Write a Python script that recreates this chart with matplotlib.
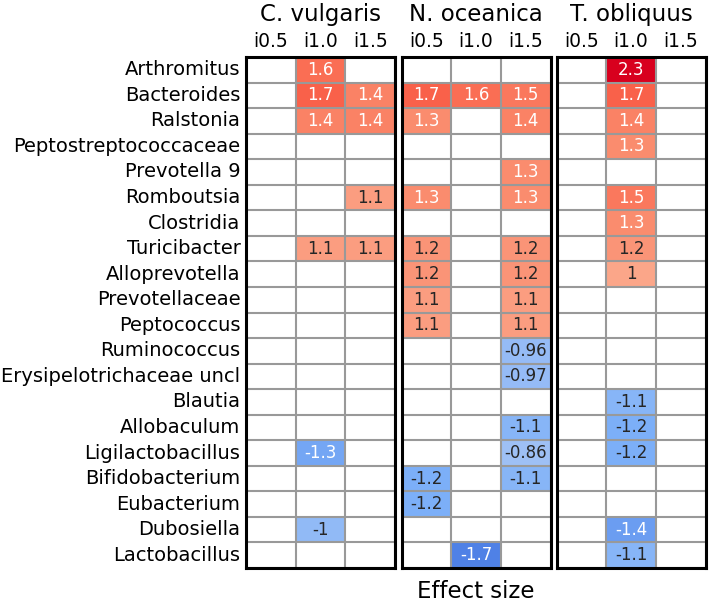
"""
Effect-size heatmaps of taxa per microalga and inclusion level.
Three side-by-side panels, one per alga, empty cells = not significant.
"""

import numpy as np
import pandas as pd
import matplotlib
matplotlib.use("Agg")
import matplotlib.pyplot as plt
from matplotlib.colors import LinearSegmentedColormap
import seaborn as sns

# -------------------------------------------------------
# DATA
# -------------------------------------------------------
nan = np.nan

taxa = [
    "Arthromitus", "Bacteroides", "Ralstonia", "Peptostreptococcaceae",
    "Prevotella 9", "Romboutsia", "Clostridia", "Turicibacter",
    "Alloprevotella", "Prevotellaceae", "Peptococcus", "Ruminococcus",
    "Erysipelotrichaceae uncl", "Blautia", "Allobaculum", "Ligilactobacillus",
    "Bifidobacterium", "Eubacterium", "Dubosiella", "Lactobacillus",
]
doses = ["i0.5", "i1.0", "i1.5"]
algae = ["C. vulgaris", "N. oceanica", "T. obliquus"]

c_vulgaris = [
    [nan, 1.6, nan], [nan, 1.7, 1.4], [nan, 1.4, 1.4], [nan, nan, nan],
    [nan, nan, nan], [nan, nan, 1.1], [nan, nan, nan], [nan, 1.1, 1.1],
    [nan, nan, nan], [nan, nan, nan], [nan, nan, nan], [nan, nan, nan],
    [nan, nan, nan], [nan, nan, nan], [nan, nan, nan], [nan, -1.3, nan],
    [nan, nan, nan], [nan, nan, nan], [nan, -1.0, nan], [nan, nan, nan],
]
n_oceanica = [
    [nan, nan, nan], [1.7, 1.6, 1.5], [1.3, nan, 1.4], [nan, nan, nan],
    [nan, nan, 1.3], [1.3, nan, 1.3], [nan, nan, nan], [1.2, nan, 1.2],
    [1.2, nan, 1.2], [1.1, nan, 1.1], [1.1, nan, 1.1], [nan, nan, -0.96],
    [nan, nan, -0.97], [nan, nan, nan], [nan, nan, -1.1], [nan, nan, -0.86],
    [-1.2, nan, -1.1], [-1.2, nan, nan], [nan, nan, nan], [nan, -1.7, nan],
]
t_obliquus = [
    [nan, 2.3, nan], [nan, 1.7, nan], [nan, 1.4, nan], [nan, 1.3, nan],
    [nan, nan, nan], [nan, 1.5, nan], [nan, 1.3, nan], [nan, 1.2, nan],
    [nan, 1.0, nan], [nan, nan, nan], [nan, nan, nan], [nan, nan, nan],
    [nan, nan, nan], [nan, -1.1, nan], [nan, -1.2, nan], [nan, -1.2, nan],
    [nan, nan, nan], [nan, nan, nan], [nan, -1.4, nan], [nan, -1.1, nan],
]

panels = [c_vulgaris, n_oceanica, t_obliquus]

# -------------------------------------------------------
# COLOURS - a brighter take on coolwarm
# -------------------------------------------------------
cmap_stops = [
    (0.00, (50, 100, 220)),
    (0.16, (80, 130, 230)),
    (0.26, (125, 176, 248)),
    (0.32, (156, 191, 245)),
    (0.50, (236, 236, 236)),
    (0.70, (251, 167, 138)),
    (0.76, (250, 140, 110)),
    (0.84, (250, 100, 75)),
    (0.96, (216, 0, 30)),
    (1.00, (200, 0, 25)),
]
cmap = LinearSegmentedColormap.from_list(
    "bright_coolwarm", [(p, tuple(c / 255 for c in rgb)) for p, rgb in cmap_stops])

# -------------------------------------------------------
# LAYOUT (pixels of a 709 x 603 canvas)
# -------------------------------------------------------
W, H = 709, 603
panel_left = [246, 401.5, 556.5]
panel_w = 149
grid_top, grid_bottom = 57, 568

fig = plt.figure(figsize=(W / 100, H / 100), dpi=100)

for i, (name, vals) in enumerate(zip(algae, panels)):
    df = pd.DataFrame(vals, index=taxa, columns=doses)
    ax = fig.add_axes([panel_left[i] / W, 1 - grid_bottom / H,
                       panel_w / W, (grid_bottom - grid_top) / H])
    sns.heatmap(df, ax=ax, cmap=cmap, vmin=-2.5, vmax=2.5, cbar=False,
                annot=True, annot_kws={"size": 12},
                xticklabels=doses, yticklabels=taxa if i == 0 else False)

    # grey grid over every cell, including the empty ones
    ax.hlines(np.arange(len(taxa) + 1), 0, len(doses), color="#999999", lw=1.5, zorder=3)
    ax.vlines(np.arange(len(doses) + 1), 0, len(taxa), color="#999999", lw=1.5, zorder=3)
    for sp in ax.spines.values():
        sp.set_visible(True)
        sp.set_linewidth(2.2)
        sp.set_color("black")
        sp.set_zorder(5)

    ax.xaxis.tick_top()
    ax.set_xticklabels(doses, rotation=0, fontsize=13.5)
    ax.tick_params(length=0, pad=4)
    if i == 0:
        ax.set_yticklabels(taxa, rotation=0, fontsize=14)
    ax.set_xlabel("")
    ax.set_ylabel("")

    cx = (panel_left[i] + panel_w / 2) / W
    fig.text(cx, 1 - 21 / H, name, ha="center", va="baseline", fontsize=16.5)

fig.text((panel_left[1] + panel_w / 2) / W, 5 / H, "Effect size",
         ha="center", va="baseline", fontsize=16.5)

fig.savefig("out.png", dpi=100)
